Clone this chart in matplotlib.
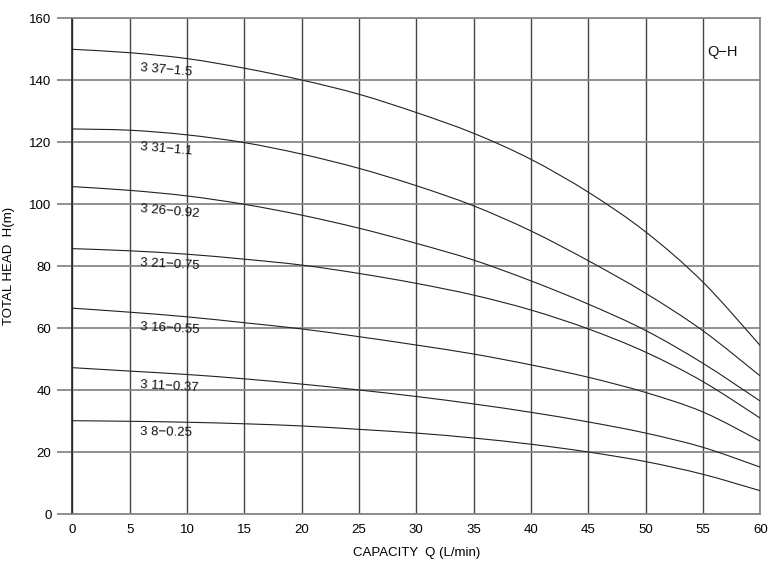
import matplotlib
matplotlib.use("Agg")
import matplotlib.pyplot as plt
from matplotlib.path import Path
from matplotlib.patches import PathPatch

plt.rcParams['font.family'] = ['Liberation Sans', 'DejaVu Sans']

Q = [0, 5, 10, 15, 20, 25, 30, 35, 40, 45, 50, 55, 60]
h_37_15 = [150.0, 148.9, 147.0, 143.9, 140.1, 135.5, 129.6, 122.9, 114.5, 103.9, 91.1, 74.9, 54.4]
h_31_11 = [124.3, 123.9, 122.4, 119.9, 116.2, 111.6, 106.0, 99.5, 91.4, 81.8, 71.3, 59.2, 44.6]
h_26_092 = [105.7, 104.5, 102.7, 100.0, 96.5, 92.3, 87.4, 82.0, 75.3, 67.8, 59.3, 48.7, 36.5]
h_21_075 = [85.7, 85.0, 83.9, 82.3, 80.4, 77.7, 74.5, 70.7, 65.9, 59.8, 52.3, 42.8, 31.0]
h_16_055 = [66.5, 65.2, 63.7, 61.8, 59.8, 57.3, 54.6, 51.7, 48.2, 44.2, 39.3, 33.0, 23.6]
h_11_037 = [47.3, 46.2, 45.1, 43.7, 42.0, 40.1, 38.0, 35.6, 32.9, 29.8, 26.2, 21.6, 15.2]
h_8_025 = [30.2, 30.0, 29.7, 29.2, 28.5, 27.4, 26.2, 24.6, 22.6, 20.1, 17.0, 12.9, 7.6]

series = [h_37_15, h_31_11, h_26_092, h_21_075, h_16_055, h_11_037, h_8_025]
labels = ["3 37\u22121.5", "3 31\u22121.1", "3 26\u22120.92", "3 21\u22120.75",
          "3 16\u22120.55", "3 11\u22120.37", "3 8\u22120.25"]
label_y = [143.9, 118.6, 98.4, 81.0, 60.3, 41.7, 26.6]
label_rot = [-5, -5, -5, -3, -3, -3, -1]

x_ticks = list(range(0, 61, 5))
y_ticks = list(range(0, 161, 20))


def smooth_path(xs, ys):
    """Bezier path passing through every read point (Catmull-Rom tangents)."""
    n = len(xs)
    verts = [(xs[0], ys[0])]
    codes = [Path.MOVETO]
    for i in range(n - 1):
        x0, y0 = xs[max(i - 1, 0)], ys[max(i - 1, 0)]
        x1, y1 = xs[i], ys[i]
        x2, y2 = xs[i + 1], ys[i + 1]
        x3, y3 = xs[min(i + 2, n - 1)], ys[min(i + 2, n - 1)]
        c1 = (x1 + (x2 - x0) / 6.0, y1 + (y2 - y0) / 6.0)
        c2 = (x2 - (x3 - x1) / 6.0, y2 - (y3 - y1) / 6.0)
        verts += [c1, c2, (x2, y2)]
        codes += [Path.CURVE4] * 3
    return Path(verts, codes)


fig = plt.figure(figsize=(7.79, 5.63), dpi=100)
ax = fig.add_axes([0.0928, 0.0865, 0.8832, 0.881])

for xv in x_ticks:
    ax.axvline(xv, color='#444444', lw=1.0, zorder=1)
for yv in y_ticks:
    ax.axhline(yv, color='#888888', lw=1.3, zorder=1)

for s in series:
    ax.add_patch(PathPatch(smooth_path(Q, s), facecolor='none',
                           edgecolor='#222222', lw=0.8, zorder=3))

for lab, ly, rot in zip(labels, label_y, label_rot):
    ax.text(5.9, ly, lab, fontsize=9.5, ha='left', va='center', rotation=rot,
            rotation_mode='anchor', color='#111111', zorder=4)

ax.text(56.7, 149, "Q\u2212H", fontsize=10.5, ha='center', va='center', color='#111111')

ax.set_xlim(0, 60)
ax.set_ylim(0, 160)
ax.set_xticks(x_ticks)
ax.set_yticks(y_ticks)
ax.tick_params(axis='x', length=0, pad=7, labelsize=9.5)
ax.tick_params(axis='y', length=11, width=1.3, color='#888888', pad=4, labelsize=9.5)

for sp in ['top', 'right', 'bottom']:
    ax.spines[sp].set_color('#888888')
    ax.spines[sp].set_linewidth(1.3)
ax.spines['left'].set_color('#222222')
ax.spines['left'].set_linewidth(1.2)

ax.set_xlabel("CAPACITY  Q (L/min)", fontsize=9.5, labelpad=8)
ax.set_ylabel("TOTAL HEAD  H(m)", fontsize=9.5, labelpad=10)

fig.savefig("out.png", dpi=100)
